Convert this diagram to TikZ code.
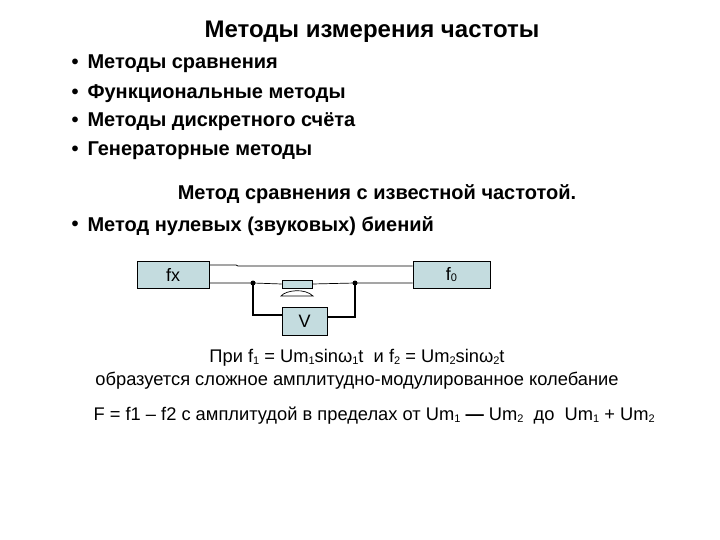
\documentclass[tikz,border=0pt]{standalone}
\usepackage{fontspec}
\setmainfont{Liberation Sans}
\definecolor{boxc}{HTML}{C4DCDF}
\newcommand{\sbs}[1]{\raisebox{-0.2ex}{\fontsize{11}{11}\selectfont #1}}
\begin{document}
\begin{tikzpicture}[x=1pt,y=-1pt,
  bl/.style={anchor=west,font=\fontsize{20}{22}\selectfont\bfseries},
  bul/.style={font=\fontsize{20}{22}\selectfont\bfseries},
  txt/.style={font=\fontsize{18.3}{20}\selectfont},
  blk/.style={draw,fill=boxc,line width=0.7pt,font=\fontsize{18}{18}\selectfont},
  wire/.style={line width=0.7pt},
  dotc/.style={circle,fill,inner sep=0pt,minimum size=5pt}]
\useasboundingbox (0,0) rectangle (720,540);
\node[font=\fontsize{24}{26}\selectfont\bfseries] (title) at (372,32) {Методы измерения частоты};
\foreach \y/\t [count=\i] in {64/Методы сравнения,94/Функциональные методы,122/Методы дискретного счёта,151/Генераторные методы}{
  \node[bul] (b\i) at (75,\y) {•};
  \node[bl] (l\i) at (84,\y) {\t};
}
\node[bul] (sub) at (377,194) {Метод сравнения с известной частотой.};
\node[bul] (b5) at (75,226) {•};
\node[bl] (l5) at (84,226) {Метод нулевых (звуковых) биений};
\node[blk,minimum width=72pt,minimum height=27pt] (fx) at (173,274.5) {fx};
\node[blk,minimum width=77pt,minimum height=27pt] (f0) at (451.5,274.5) {f\sbs{0}};
\node[blk,minimum width=45pt,minimum height=28pt] (V) at (304.5,321) {V};
\node[draw,fill=boxc,line width=0.7pt,minimum width=30pt,minimum height=8pt,inner sep=0pt] (sp) at (297,284) {};
\coordinate (d1) at (253,283);
\coordinate (d2) at (355,283);
\draw[wire] (fx.east |- 0,265) -- (236,265) -- (238,266) -- (f0.west |- 0,266);
\draw[wire] (fx.east |- 0,283) -- (d1) -- (sp.west);
\draw[wire] (sp.east) -- (d2) -- (f0.west |- 0,283);
\draw[wire] (281,296) .. controls (286,290) and (305,288) .. (313,296) -- cycle;
\draw[line width=1.1pt] (d1) -- (253,315) -- (V.west |- 0,315);
\draw[line width=1.1pt] (V.east |- 0,317) -- (355,317) -- (d2);
\node[dotc] at (d1) {};
\node[dotc] at (d2) {};
\node[txt] (t1) at (357,358) {При f\sbs{1} = Um\sbs{1}sinω\sbs{1}t\ \ и f\sbs{2} = Um\sbs{2}sinω\sbs{2}t};
\node[txt] (t2) at (357,381) {образуется сложное амплитудно-модулированное колебание};
\node[txt,anchor=west] (t3) at (90,416) {F = f1 – f2 с амплитудой в пределах от Um\sbs{1} \textbf{—} Um\sbs{2}\ \ до\ \ Um\sbs{1} + Um\sbs{2}};
\end{tikzpicture}
\end{document}
